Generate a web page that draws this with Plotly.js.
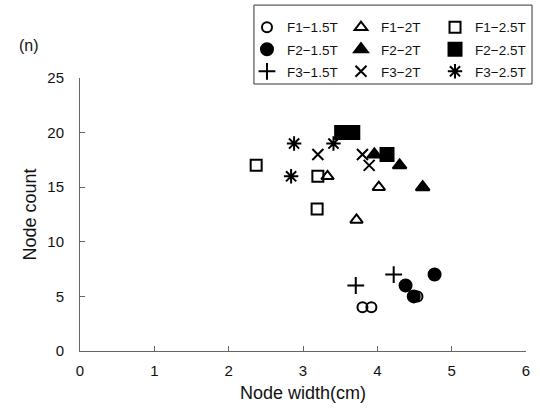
<!DOCTYPE html>
<html>
<head>
<meta charset="utf-8">
<script src="https://cdn.plot.ly/plotly-3.0.1.min.js"></script>
<style>html,body{margin:0;padding:0;background:#fff;}#chart{width:540px;height:411px;}</style>
</head>
<body>
<div id="chart"></div>
<script>
// Series data: node width (cm) and node count (n)
const names = ["F1−1.5T","F2−1.5T","F3−1.5T","F1−2T","F2−2T","F3−2T","F1−2.5T","F2−2.5T","F3−2.5T"];
const F1_15_x = [3.80, 3.92, 4.54];
const F1_15_y = [4, 4, 5];
const F2_15_x = [4.38, 4.49, 4.77];
const F2_15_y = [6, 5, 7];
const F3_15_x = [3.71, 4.22];
const F3_15_y = [6, 7];
const F1_2_x = [3.33, 4.02, 3.72];
const F1_2_y = [16, 15, 12];
const F2_2_x = [3.96, 4.30, 4.61];
const F2_2_y = [18, 17, 15];
const F3_2_x = [3.20, 3.80, 3.89];
const F3_2_y = [18, 18, 17];
const F1_25_x = [2.37, 3.20, 3.19];
const F1_25_y = [17, 16, 13];
const F2_25_x = [3.52, 3.67, 4.13];
const F2_25_y = [20, 20, 18];
const F3_25_x = [2.88, 2.84, 3.41];
const F3_25_y = [19, 16, 19];
const xTicks = [0, 1, 2, 3, 4, 5, 6];
const yTicks = [0, 5, 10, 15, 20, 25];

const xs = [F1_15_x, F2_15_x, F3_15_x, F1_2_x, F2_2_x, F3_2_x, F1_25_x, F2_25_x, F3_25_x];
const ys = [F1_15_y, F2_15_y, F3_15_y, F1_2_y, F2_2_y, F3_2_y, F1_25_y, F2_25_y, F3_25_y];
const symbols = ["circle-open","circle","cross-thin-open","triangle-up-open","triangle-up","x-thin-open","square-open","square","asterisk-open"];
const sizes = [10, 12, 12, 11, 12, 11, 11, 13, 12];
const legendIds = ["legend","legend","legend","legend2","legend2","legend2","legend3","legend3","legend3"];

const traces = names.map((n, i) => ({
  type: "scatter", mode: "markers", name: n,
  x: xs[i], y: ys[i],
  legend: legendIds[i], legendgroup: "g" + i,
  marker: {symbol: symbols[i], size: sizes[i], color: "#000", line: {color: "#000", width: 2}}
}));

const fontFam = "Liberation Sans, Arial, sans-serif";
const legBase = {
  orientation: "v", xanchor: "left", y: 1.242, yanchor: "top",
  borderwidth: 0, bgcolor: "rgba(0,0,0,0)", tracegroupgap: 1.5,
  font: {family: fontFam, size: 13.5, color: "#111"}
};
const layout = {
  width: 540, height: 411,
  margin: {l: 80, r: 14, t: 78, b: 60, autoexpand: false},
  paper_bgcolor: "#fff", plot_bgcolor: "#fff",
  font: {family: fontFam, color: "#111", size: 15},
  showlegend: true,
  legend: Object.assign({}, legBase, {x: 0.3744}),
  legend2: Object.assign({}, legBase, {x: 0.5852}),
  legend3: Object.assign({}, legBase, {x: 0.7960}),
  shapes: [{
    type: "rect", xref: "paper", yref: "paper",
    x0: 0.390, x1: 1.0135, y0: 0.978, y1: 1.267,
    line: {color: "#333", width: 1}, fillcolor: "rgba(0,0,0,0)", layer: "below"
  }],
  xaxis: {
    range: [0, 6], tickvals: xTicks, ticktext: xTicks.map(String),
    showgrid: false, zeroline: false, showline: true, linecolor: "#666", linewidth: 1,
    ticks: "inside", ticklen: 5, tickcolor: "#666", ticklabelstandoff: 6,
    tickfont: {size: 15},
    title: {text: "Node width(cm)", font: {size: 18}, standoff: 8}
  },
  yaxis: {
    range: [0, 25], tickvals: yTicks, ticktext: yTicks.map(String),
    showgrid: false, zeroline: false, showline: true, linecolor: "#666", linewidth: 1,
    ticks: "inside", ticklen: 5, tickcolor: "#666", ticklabelstandoff: 12,
    tickfont: {size: 15},
    title: {text: "Node count", font: {size: 18}, standoff: 6}
  },
  annotations: [{
    text: "(n)", xref: "paper", yref: "paper", x: -0.115, y: 1.12,
    xanchor: "center", yanchor: "middle", showarrow: false,
    font: {family: fontFam, size: 16, color: "#111"}
  }]
};

Plotly.newPlot("chart", traces, layout, {displayModeBar: false, staticPlot: true});
</script>
</body>
</html>
